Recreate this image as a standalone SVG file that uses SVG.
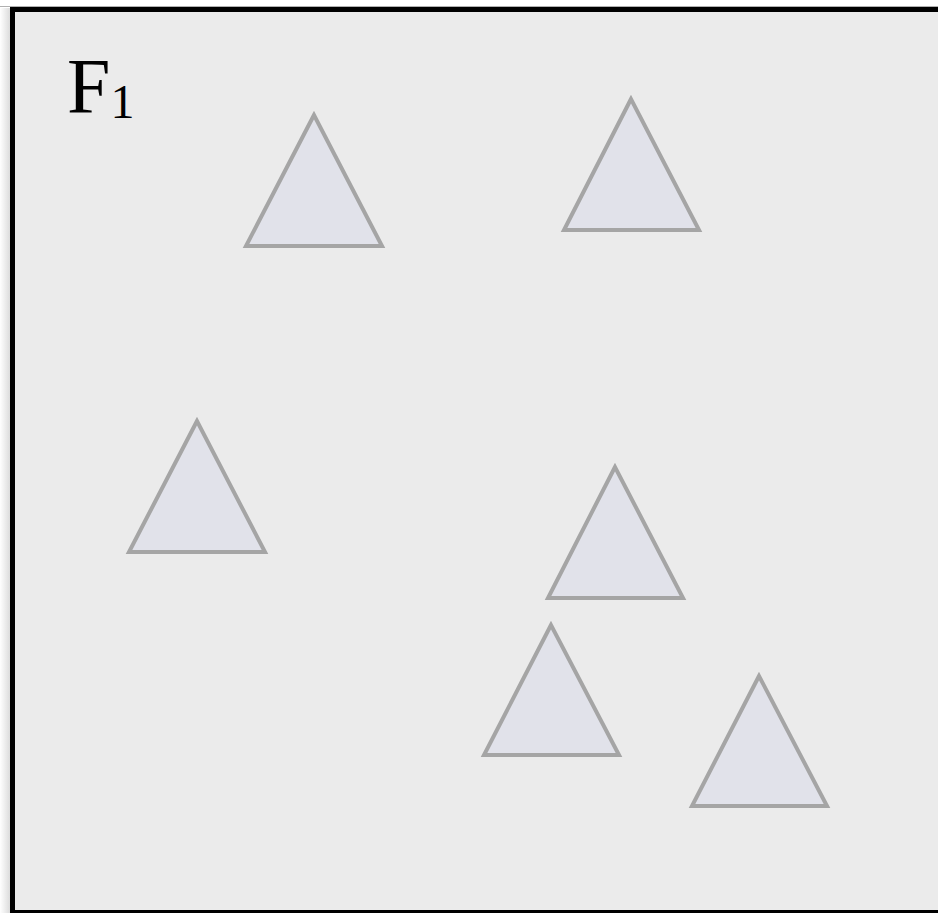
<svg xmlns="http://www.w3.org/2000/svg" width="938" height="913" viewBox="0 0 938 913">
<defs>
<linearGradient id="sh" x1="0" y1="0" x2="1" y2="0">
<stop offset="0" stop-color="#ffffff"/>
<stop offset="1" stop-color="#d8d8d8"/>
</linearGradient>
<style>
.tri{fill:#e1e2ea;stroke:#a5a5a5;stroke-width:4;stroke-linejoin:miter}
.lbl{font-family:"Liberation Serif","Times New Roman",serif;fill:#000}
</style>
</defs>
<rect x="0" y="0" width="938" height="913" fill="#ffffff"/>
<rect x="0" y="8" width="11" height="905" fill="url(#sh)"/>
<rect x="0" y="6" width="938" height="1" fill="#b0b0b0"/>
<g id="frame">
<rect x="12.5" y="9.5" width="940" height="903" fill="#ebebeb" stroke="#000" stroke-width="5"/>
</g>
<g id="label">
<text class="lbl" x="67" y="112" font-size="78">F<tspan font-size="48" dy="6">1</tspan></text>
</g>
<g id="t1"><polygon class="tri" points="314,115 246,246 382,246"/></g>
<g id="t2"><polygon class="tri" points="631,99 564,230 699,230"/></g>
<g id="t3"><polygon class="tri" points="197,421 129,552 265,552"/></g>
<g id="t4"><polygon class="tri" points="615,467 548,598 683,598"/></g>
<g id="t5"><polygon class="tri" points="551,625 484,755 619,755"/></g>
<g id="t6"><polygon class="tri" points="759,676 692,806 827,806"/></g>
<g id="connectors"/>
</svg>
